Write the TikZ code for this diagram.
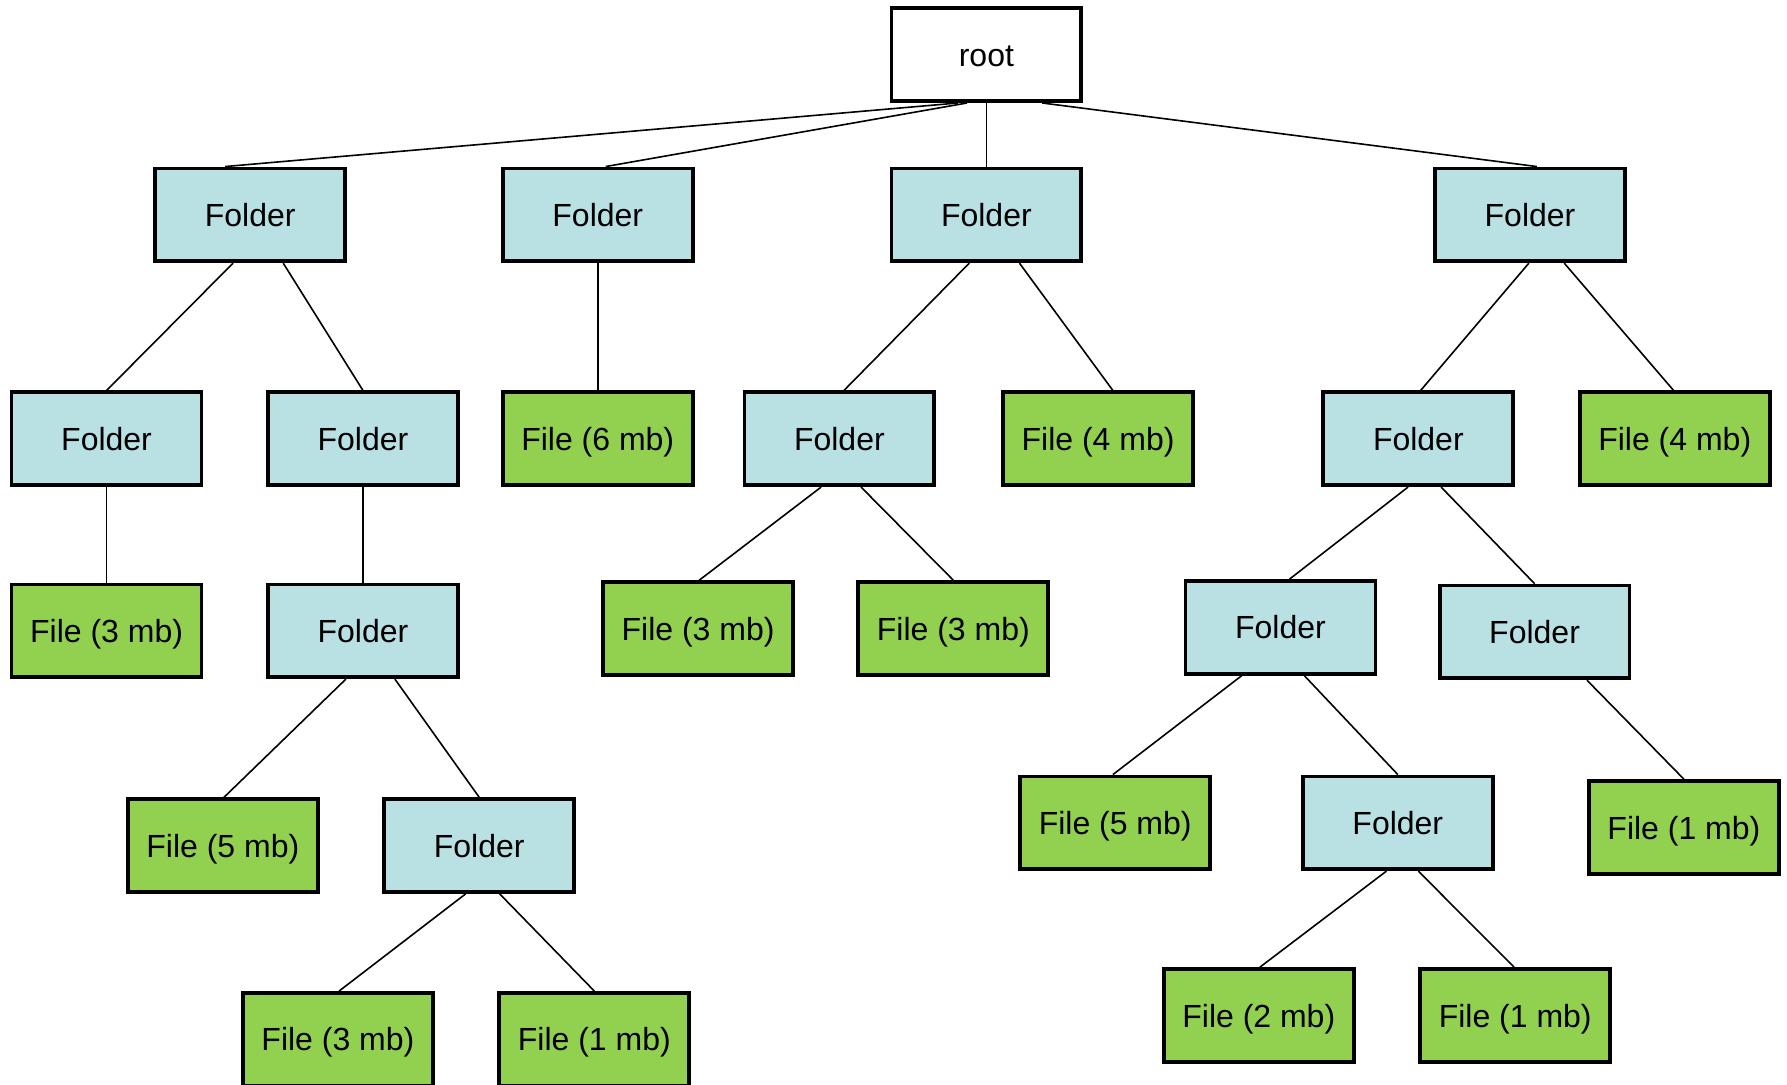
\documentclass[tikz,border=0pt]{standalone}
\usepackage{fontspec}
\setmainfont{Liberation Sans}
\usetikzlibrary{calc}
\definecolor{folderblue}{HTML}{B9E0E3}
\definecolor{filegreen}{HTML}{92D050}
\tikzset{
  box/.style={draw, line width=1.9pt, minimum width=95pt, minimum height=46.4pt, inner sep=0pt, text height=11.6pt, text depth=0pt, font=\fontsize{16}{18}\selectfont},
  folder/.style={box, fill=folderblue},
  file/.style={box, fill=filegreen},
  link/.style={line width=0.8pt}
}
\begin{document}
\begin{tikzpicture}[x=0.57pt,y=-0.57pt]
\useasboundingbox (0,0) rectangle (1568,952);
% level 0 and 1
\node [box] (root) at (865.5,48) {root};
\node [folder] (f1) at (219.5,188.5) {Folder};
\node [folder] (f2) at (524.5,188.5) {Folder};
\node [folder] (f3) at (865.5,188.5) {Folder};
\node [folder] (f4) at (1342.5,188.5) {Folder};
% level 2
\node [folder] (f1a) at (93.5,385) {Folder};
\node [folder] (f1b) at (318.5,385) {Folder};
\node [file] (file6) at (524.5,385) {File (6 mb)};
\node [folder] (f3a) at (736.5,385) {Folder};
\node [file] (file4a) at (963.5,385) {File (4 mb)};
\node [folder] (f4a) at (1244.5,385) {Folder};
\node [file] (file4b) at (1469.5,385) {File (4 mb)};
% level 3
\node [file] (file3a) at (93.5,553.5) {File (3 mb)};
\node [folder] (f1ba) at (318.5,553.5) {Folder};
\node [file] (file3b) at (612.5,551.5) {File (3 mb)};
\node [file] (file3c) at (836.5,551.5) {File (3 mb)};
\node [folder] (f4aa) at (1123.5,550.5) {Folder};
\node [folder] (f4ab) at (1346.5,554.5) {Folder};
% level 4
\node [file] (file5a) at (195.5,742) {File (5 mb)};
\node [folder] (f1bb) at (420.5,742) {Folder};
\node [file] (file5b) at (978.5,722) {File (5 mb)};
\node [folder] (f4aab) at (1226.5,722) {Folder};
\node [file] (file1a) at (1477.5,726) {File (1 mb)};
% level 5
\node [file] (file3d) at (296.5,912) {File (3 mb)};
\node [file] (file1b) at (521.5,912) {File (1 mb)};
\node [file] (file2) at (1104.5,891) {File (2 mb)};
\node [file] (file1c) at (1329.5,891) {File (1 mb)};
% links
\draw [link] ($(root.south)+(-25,0)$) -- ($(f1.north)+(-22,0)$);
\draw [link] ($(root.south)+(-17,0)$) -- ($(f2.north)+(7,0)$);
\draw [link] (root.south) -- (f3.north);
\draw [link] ($(root.south)+(49,0)$) -- ($(f4.north)+(6,0)$);
\draw [link] ($(f1.south)+(-15,0)$) -- (f1a.north);
\draw [link] ($(f1.south)+(29,0)$) -- (f1b.north);
\draw [link] (f1a.south) -- (file3a.north);
\draw [link] (f1b.south) -- (f1ba.north);
\draw [link] ($(f1ba.south)+(-15,0)$) -- ($(file5a.north)+(1,0)$);
\draw [link] ($(f1ba.south)+(28,0)$) -- (f1bb.north);
\draw [link] ($(f1bb.south)+(-12,0)$) -- ($(file3d.north)+(1,0)$);
\draw [link] ($(f1bb.south)+(18,0)$) -- (file1b.north);
\draw [link] (f2.south) -- (file6.north);
\draw [link] ($(f3.south)+(-15,0)$) -- ($(f3a.north)+(4,0)$);
\draw [link] ($(f3.south)+(29,0)$) -- ($(file4a.north)+(13,0)$);
\draw [link] ($(f3a.south)+(-16,0)$) -- ($(file3b.north)+(1,0)$);
\draw [link] ($(f3a.south)+(19,0)$) -- (file3c.north);
\draw [link] ($(f4.south)+(-1,0)$) -- ($(f4a.north)+(2,0)$);
\draw [link] ($(f4.south)+(30,0)$) -- ($(file4b.north)+(-1,0)$);
\draw [link] ($(f4a.south)+(-9,0)$) -- ($(f4aa.north)+(8,0)$);
\draw [link] ($(f4a.south)+(20,0)$) -- (f4ab.north);
\draw [link] ($(f4aa.south)+(-34,0)$) -- ($(file5b.north)+(-2,0)$);
\draw [link] ($(f4aa.south)+(21,0)$) -- (f4aab.north);
\draw [link] ($(f4ab.south)+(46,0)$) -- (file1a.north);
\draw [link] ($(f4aab.south)+(-10,0)$) -- ($(file2.north)+(1,0)$);
\draw [link] ($(f4aab.south)+(18,0)$) -- ($(file1c.north)+(-1,0)$);
\end{tikzpicture}
\end{document}
